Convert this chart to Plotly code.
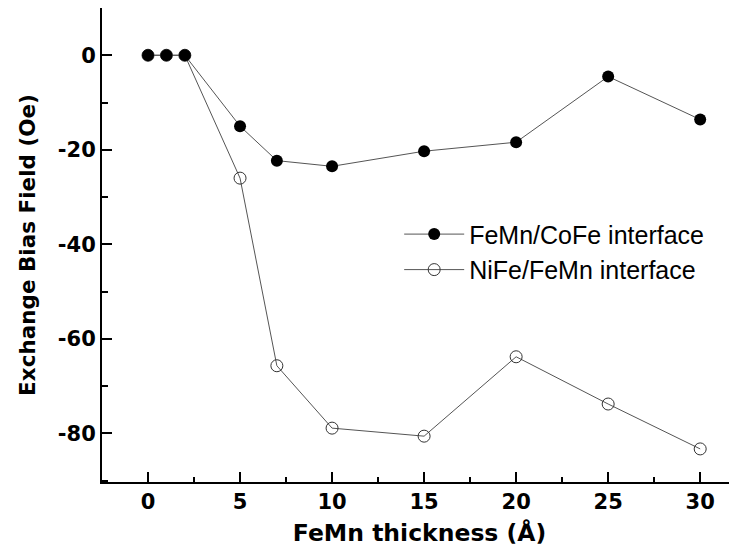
import plotly.graph_objects as go

thickness = [0, 1, 2, 5, 7, 10, 15, 20, 25, 30]
femn_cofe = [0, 0, 0, -15.0, -22.3, -23.5, -20.3, -18.4, -4.5, -13.6]
nife_femn = [0, 0, 0, -26.0, -65.7, -78.9, -80.6, -63.8, -73.8, -83.3]

x_ticks = [0, 5, 10, 15, 20, 25, 30]
y_ticks = [0, -20, -40, -60, -80]
y_tick_labels = ["0", "-20", "-40", "-60", "-80"]

fig = go.Figure()
fig.add_trace(go.Scatter(
    x=thickness, y=nife_femn, name="NiFe/FeMn interface", mode="lines+markers",
    line=dict(color="#555555", width=1),
    marker=dict(symbol="circle-open", size=12, color="#333333", line=dict(width=1)),
    legendrank=2,
))
fig.add_trace(go.Scatter(
    x=thickness, y=femn_cofe, name="FeMn/CoFe interface", mode="lines+markers",
    line=dict(color="#555555", width=1),
    marker=dict(symbol="circle", size=12, color="black"),
    legendrank=1,
))

tickfont = dict(family="DejaVu Sans", size=21, color="black", weight="bold")
xtitlefont = dict(family="DejaVu Sans", size=23.5, color="black", weight="bold")
ytitlefont = dict(family="DejaVu Sans", size=21.5, color="black", weight="bold")

fig.update_layout(
    width=729, height=551,
    margin=dict(l=94, r=0, t=0, b=77),
    paper_bgcolor="white", plot_bgcolor="white",
    showlegend=True,
    legend=dict(x=0.468, y=0.571, xanchor="left", yanchor="top",
                font=dict(family="Liberation Sans, Arial", size=25, color="black"),
                bgcolor="rgba(0,0,0,0)", itemwidth=60, tracegroupgap=0),
    xaxis=dict(range=[-2.5, 32], tickvals=x_ticks, ticks="inside", ticklen=10, tickwidth=1.5,
               tickcolor="black", showline=True, linecolor="black", linewidth=2, mirror=True,
               showgrid=False, zeroline=False, tickfont=tickfont, automargin=False,
               minor=dict(dtick=2.5, tick0=0, ticks="inside", ticklen=5, tickwidth=1.5, tickcolor="black", showgrid=False),
               title=dict(text="FeMn thickness (Å)", font=xtitlefont, standoff=11)),
    yaxis=dict(range=[-90.3, 10], tickvals=y_ticks, ticktext=y_tick_labels, ticks="inside", ticklen=10, tickwidth=1.5,
               tickcolor="black", showline=True, linecolor="black", linewidth=2, mirror=False,
               showgrid=False, zeroline=False, tickfont=tickfont, automargin=False,
               minor=dict(dtick=10, tick0=0, ticks="inside", ticklen=6, tickwidth=1.5, tickcolor="black", showgrid=False),
               title=dict(text="Exchange Bias Field (Oe)", font=ytitlefont, standoff=16)),
)

fig.write_html("out.html")
